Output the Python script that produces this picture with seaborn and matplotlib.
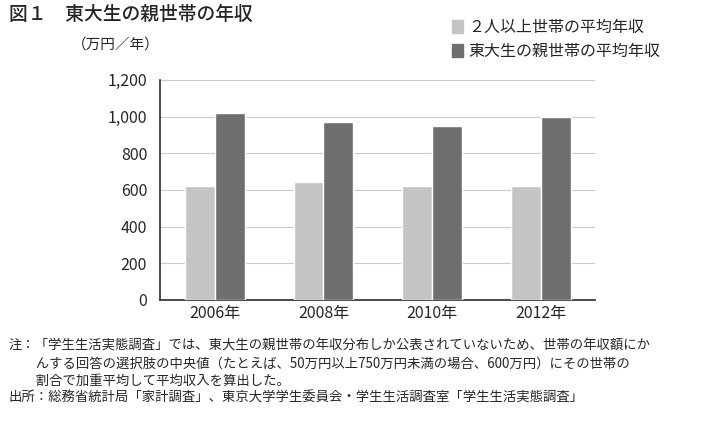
import pandas as pd
import matplotlib.pyplot as plt
import seaborn as sns

years = ["2006年", "2008年", "2010年", "2012年"]
series = ["２人以上世帯の平均年収", "東大生の親世帯の平均年収"]
household_avg = [620, 645, 620, 620]
todai_avg = [1020, 970, 950, 1000]
colors = ["#c4c4c4", "#6e6e6e"]

df = pd.DataFrame({
    "year": years * 2,
    "series": [series[0]] * 4 + [series[1]] * 4,
    "value": household_avg + todai_avg,
})

sns.set_theme(style="white")
plt.rcParams["font.family"] = ["Noto Sans CJK JP", "DejaVu Sans"]

fig = plt.figure(figsize=(7.19, 4.23), dpi=100)
ax = fig.add_axes([0.223, 0.291, 0.605, 0.52])

sns.barplot(data=df, x="year", y="value", hue="series", palette=colors,
            width=0.55, ax=ax, legend=False, zorder=3)

ax.set_ylim(0, 1200)
ax.set_yticks(range(0, 1201, 200))
ax.set_yticklabels([f"{v:,}" for v in range(0, 1201, 200)], fontsize=11.5)
ax.tick_params(axis="x", labelsize=11.5, length=0)
ax.yaxis.grid(True, color="#cccccc", linewidth=0.8, zorder=0)
ax.set_xlabel("")
ax.set_ylabel("")
for s in ["top", "right"]:
    ax.spines[s].set_visible(False)
ax.spines["left"].set_color("#333333")
ax.spines["bottom"].set_color("#333333")

fig.text(0.012, 0.952, "図１　東大生の親世帯の年収", fontsize=13.5, fontweight="medium")
fig.text(0.10, 0.885, "（万円／年）", fontsize=10.5)

for i, (name, c) in enumerate(zip(series, colors)):
    y = 0.925 - i * 0.057
    fig.patches.append(plt.Rectangle((0.628, y - 0.003), 0.016, 0.03,
                                     transform=fig.transFigure, color=c))
    fig.text(0.652, y, name, fontsize=11.5)

notes = ("注：「学生生活実態調査」では、東大生の親世帯の年収分布しか公表されていないため、世帯の年収額にか\n"
         "　　んする回答の選択肢の中央値（たとえば、50万円以上750万円未満の場合、600万円）にその世帯の\n"
         "　　割合で加重平均して平均収入を算出した。\n"
         "出所：総務省統計局「家計調査」、東京大学学生委員会・学生生活調査室「学生生活実態調査」")
fig.text(0.012, 0.05, notes, fontsize=9.6, linespacing=1.3)

fig.savefig("out.png", dpi=100)
